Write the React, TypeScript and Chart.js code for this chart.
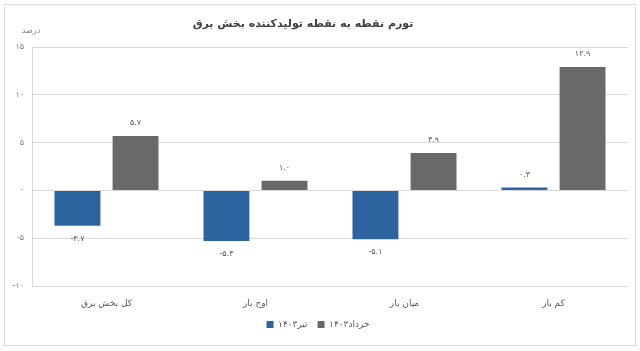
import React, { useEffect, useRef } from "react";
import { Chart, registerables } from "chart.js";

Chart.register(...registerables);

const categories = ["کل بخش برق", "اوج بار", "میان بار", "کم بار"];
const seriesTir = [-3.7, -5.3, -5.1, 0.3];
const seriesKhordad = [5.7, 1.0, 3.9, 12.9];
const seriesNames = ["تیر۱۴۰۳", "خرداد۱۴۰۳"];
const titleText = "تورم نقطه به نقطه تولیدکننده بخش برق";
const unitText = "درصد";

const faDigits = "۰۱۲۳۴۵۶۷۸۹";
const toFa = (s: string) => s.replace(/[0-9]/g, (d) => faDigits[Number(d)]);
const fmtTick = (v: number) => (v < 0 ? "-" + toFa(String(Math.abs(v))) : toFa(String(v)));
const fmtVal = (v: number) => (v < 0 ? "-" + toFa(Math.abs(v).toFixed(1)) : toFa(v.toFixed(1)));

const FONT = "'DejaVu Sans', sans-serif";

const decorPlugin = {
  id: "decor",
  beforeDraw(chart: any) {
    const ctx = chart.ctx;
    ctx.save();
    ctx.fillStyle = "#ffffff";
    ctx.fillRect(0, 0, chart.width, chart.height);
    ctx.strokeStyle = "#d9d9d9";
    ctx.lineWidth = 1;
    ctx.strokeRect(4.5, 4.5, 631, 341);
    ctx.fillStyle = "#404040";
    ctx.font = `bold 11px ${FONT}`;
    ctx.textAlign = "center";
    ctx.textBaseline = "middle";
    ctx.fillText(titleText, 303, 24);
    ctx.fillStyle = "#7f7f7f";
    ctx.font = `8px ${FONT}`;
    ctx.fillText(unitText, 31, 31);
    ctx.restore();
  },
  afterDatasetsDraw(chart: any) {
    const ctx = chart.ctx;
    ctx.save();
    ctx.fillStyle = "#595959";
    ctx.font = `8px ${FONT}`;
    ctx.textAlign = "center";
    ctx.textBaseline = "middle";
    chart.data.datasets.forEach((ds: any, i: number) => {
      const meta = chart.getDatasetMeta(i);
      meta.data.forEach((bar: any, j: number) => {
        const v = ds.data[j];
        const y = v >= 0 ? bar.y - 13 : bar.y + 13;
        ctx.fillText(fmtVal(v), bar.x, y);
      });
    });
    ctx.restore();
  },
};

export default function App() {
  const ref = useRef<HTMLCanvasElement>(null);
  useEffect(() => {
    document.body.style.margin = "0";
    const chart = new Chart(ref.current!, {
      type: "bar",
      data: {
        labels: categories,
        datasets: [
          {
            label: seriesNames[0],
            data: seriesTir,
            backgroundColor: "#2c64a0",
            categoryPercentage: 0.78,
            barPercentage: 0.79,
          },
          {
            label: seriesNames[1],
            data: seriesKhordad,
            backgroundColor: "#696969",
            categoryPercentage: 0.78,
            barPercentage: 0.79,
          },
        ],
      },
      options: {
        animation: false,
        responsive: false,
        layout: { padding: { left: 8, right: 12, top: 47, bottom: 12 } },
        plugins: {
          legend: {
            position: "bottom",
            labels: {
              boxWidth: 7,
              boxHeight: 7,
              color: "#595959",
              font: { family: FONT, size: 9 },
              padding: 10,
            },
          },
          title: { display: false },
          tooltip: { enabled: false },
        },
        scales: {
          x: {
            afterFit: (s: any) => {
              s.height = 24;
            },
            grid: { display: false, drawTicks: false },
            border: { display: false },
            ticks: { color: "#595959", font: { family: FONT, size: 9 }, padding: 12 },
          },
          y: {
            min: -10,
            max: 15,
            afterFit: (s: any) => {
              s.width = 24;
            },
            grid: { color: "#d9d9d9", drawTicks: false },
            border: { display: true, color: "#d9d9d9" },
            ticks: {
              stepSize: 5,
              color: "#7f7f7f",
              font: { family: FONT, size: 8 },
              padding: 8,
              callback: (v: any) => fmtTick(Number(v)),
            },
          },
        },
      },
      plugins: [decorPlugin],
    });
    return () => chart.destroy();
  }, []);
  return (
    <div style={{ width: 640, height: 351 }}>
      <canvas ref={ref} width={640} height={351} />
    </div>
  );
}
